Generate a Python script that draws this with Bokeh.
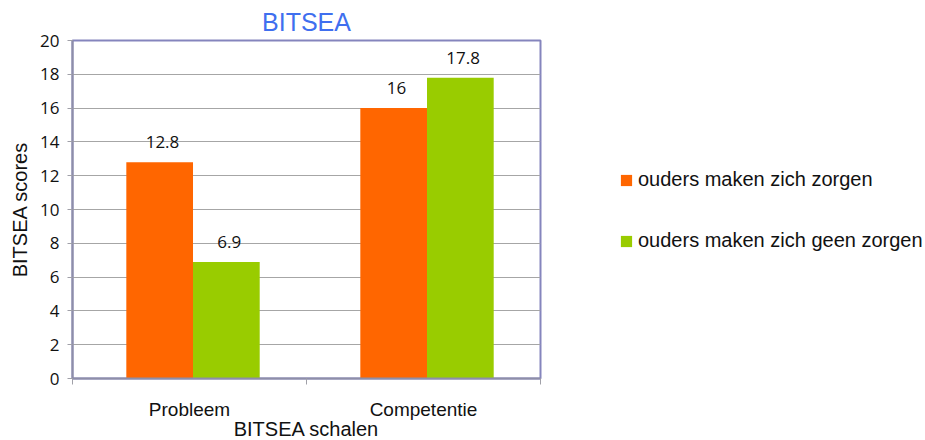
from bokeh.plotting import figure
from bokeh.models import ColumnDataSource, Range1d, FixedTicker, Legend, LegendItem
from bokeh.transform import dodge
from bokeh.core.properties import value
from bokeh.embed import file_html
from bokeh.resources import INLINE

categories = ["Probleem", "Competentie"]
cat_pos = [0.5, 1.5]
zorgen = [12.8, 16.0]
geen_zorgen = [6.9, 17.8]
zorgen_labels = ["12.8", "16"]
geen_labels = ["6.9", "17.8"]
y_ticks = list(range(0, 21, 2))
series_names = ["ouders maken zich zorgen", "ouders maken zich geen zorgen"]
colors = ["#FF6600", "#99CC00"]

src = ColumnDataSource(dict(x=cat_pos, z=zorgen, g=geen_zorgen, zl=zorgen_labels, gl=geen_labels))

p = figure(frame_width=468, frame_height=338, output_backend="svg", toolbar_location=None,
           x_range=Range1d(0, 2), y_range=Range1d(0, 20),
           min_border_left=72, min_border_right=380, min_border_top=40, min_border_bottom=62,
           title="BITSEA")
p.title.text_font = "Liberation Sans"
p.title.text_font_size = "25px"
p.title.text_font_style = "normal"
p.title.text_color = "#3F6FEF"
p.title.align = "center"
p.title.offset = 0
p.title.standoff = 9

bw = 0.285
shift = 0.015
r1 = p.vbar(x=dodge("x", -bw / 2 + shift), top="z", width=bw, source=src, color=colors[0], line_color=None)
r2 = p.vbar(x=dodge("x", bw / 2 + shift), top="g", width=bw, source=src, color=colors[1], line_color=None)

for col, lab, off in (("z", "zl", -bw / 2 + shift), ("g", "gl", bw / 2 + shift)):
    p.text(x=dodge("x", off + 0.012), y=col, text=lab, source=src, text_align="center",
           text_baseline="middle", y_offset=-20, text_font=value("Open Sans"),
           text_font_size="17px", text_color="#111111")

p.outline_line_color = "#8585BD"
p.outline_line_width = 2
p.background_fill_color = "white"
p.border_fill_color = "white"

p.xgrid.visible = False
p.ygrid.grid_line_color = "#A6A6A6"
p.ygrid.grid_line_width = 1

ax = p.xaxis[0]
ax.ticker = FixedTicker(ticks=cat_pos, minor_ticks=[0, 1, 2])
ax.major_label_overrides = {cat_pos[i]: categories[i] for i in range(len(categories))}
ax.major_tick_out = 0
ax.major_tick_in = 0
ax.minor_tick_out = 6
ax.minor_tick_in = 0
ax.minor_tick_line_color = "#A0A0A8"
ax.axis_line_color = "#8E8EA8"
ax.axis_line_width = 2
ax.major_label_standoff = 14
ax.major_label_text_font = "Liberation Sans"
ax.major_label_text_font_size = "19px"
ax.major_label_text_color = "#111111"
ax.axis_label = "BITSEA schalen"
ax.axis_label_text_font = "Liberation Sans"
ax.axis_label_text_font_size = "20px"
ax.axis_label_text_font_style = "normal"
ax.axis_label_text_color = "#111111"
ax.axis_label_standoff = -5

ay = p.yaxis[0]
ay.ticker = FixedTicker(ticks=y_ticks, minor_ticks=[])
ay.major_tick_out = 5
ay.major_tick_in = 0
ay.major_tick_line_color = "#A0A0A8"
ay.axis_line_color = "#8E8EA8"
ay.axis_line_width = 2
ay.major_label_standoff = 8
ay.major_label_text_font = "Open Sans"
ay.major_label_text_font_size = "17px"
ay.major_label_text_color = "#111111"
ay.axis_label = "BITSEA scores"
ay.axis_label_text_font = "Liberation Sans"
ay.axis_label_text_font_size = "20px"
ay.axis_label_text_font_style = "normal"
ay.axis_label_text_color = "#111111"
ay.axis_label_standoff = 6

legend = Legend(items=[LegendItem(label=series_names[0], renderers=[r1]),
                       LegendItem(label=series_names[1], renderers=[r2])],
                location=(79, 126), padding=0, margin=0, spacing=38,
                glyph_width=14, glyph_height=14, label_standoff=5, label_height=20,
                label_text_font="Liberation Sans", label_text_font_size="20px",
                label_text_color="#111111", border_line_color=None,
                background_fill_alpha=0)
p.add_layout(legend, "right")

open("out.html", "w").write(file_html(p, INLINE))
